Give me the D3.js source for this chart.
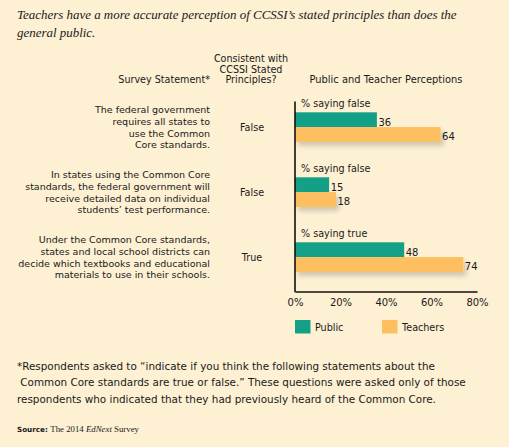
<!DOCTYPE html>
<html><head><meta charset="utf-8">
<script src="https://cdn.jsdelivr.net/npm/d3@7"></script>
<style>
html,body{margin:0;padding:0;background:#fdf0d3;}
svg{display:block;}
text{font-family:"DejaVu Sans","Noto Sans",sans-serif;fill:#1a1a1a;}
</style></head>
<body>
<svg id="c" width="509" height="447"></svg>
<script>
const statements = [
  ["The federal government","requires all states to","use the Common","Core standards."],
  ["In states using the Common Core","standards, the federal government will","receive detailed data on individual","students\u2019 test performance."],
  ["Under the Common Core standards,","states and local school districts can","decide which textbooks and educational","materials to use in their schools."]
];
const consistent = ["False","False","True"];
const measureLabels = ["% saying false","% saying false","% saying true"];
const publicVals = [36, 15, 48];
const teacherVals = [64, 18, 74];
const seriesNames = ["Public","Teachers"];
const ticks = [0,20,40,60,80];
const colors = ["#14a086","#fdbf5f"];

const svg = d3.select("#c");
const defs = svg.append("defs");
const f = defs.append("filter").attr("id","sh").attr("x","-10%").attr("y","-50%").attr("width","130%").attr("height","250%");
f.append("feGaussianBlur").attr("in","SourceAlpha").attr("stdDeviation",2.5);
f.append("feOffset").attr("dx",3).attr("dy",4).attr("result","b");
f.append("feComponentTransfer").append("feFuncA").attr("type","linear").attr("slope",0.18);
const m = f.append("feMerge"); m.append("feMergeNode"); m.append("feMergeNode").attr("in","SourceGraphic");

// Title
const title = svg.append("text").attr("x",17).attr("y",19)
  .style("font-family","'Liberation Serif','DejaVu Serif',serif").style("font-style","italic").style("font-size","15px");
const t1 = title.append("tspan").attr("x",17).attr("y",19).text("Teachers have a more accurate perception of CCSSI\u2019s stated principles than does the");
title.append("tspan").attr("x",17).attr("y",37).text("general public.");
const w = t1.node().getComputedTextLength();
title.style("font-size", (15*440/w).toFixed(2)+"px");

// headers
const hs = "9.6px";
svg.append("text").attr("x",210).attr("y",83).attr("text-anchor","end").style("font-size",hs).text("Survey Statement*");
["Consistent with","CCSSI Stated","Principles?"].forEach((t,i)=>
  svg.append("text").attr("x",251).attr("y",62+i*10.5).attr("text-anchor","middle").style("font-size",hs).text(t));
svg.append("text").attr("x",386).attr("y",83).attr("text-anchor","middle").style("font-size","9.9px").text("Public and Teacher Perceptions");

const x = d3.scaleLinear().domain([0,80]).range([295,477]);
const barH = 14.8;

const g = svg.append("g");
d3.range(3).forEach(i=>{
  const top = 112.3 + i*65;
  const center = top + barH;
  const lines = statements[i];
  const lh = 11.9;
  lines.forEach((t,j)=>{
    g.append("text").attr("x",210).attr("y",center + (j-(lines.length-1)/2)*lh + 3.5)
      .attr("text-anchor","end").style("font-size","9.5px").text(t);
  });
  g.append("text").attr("x",252).attr("y",center+3.5).attr("text-anchor","middle").style("font-size",hs).text(consistent[i]);
  g.append("text").attr("x",301).attr("y",top-5).style("font-size",hs).text(measureLabels[i]);
  const vals = [publicVals[i], teacherVals[i]];
  vals.forEach((v,k)=>{
    g.append("rect").attr("x",x(0)).attr("y",top+k*barH).attr("width",x(v)-x(0)).attr("height",barH)
      .attr("fill",colors[k]).attr("filter", k===1 ? "url(#sh)" : null);
    g.append("text").attr("x",x(v)+1.5).attr("y",top+k*barH+barH-1.5).style("font-size","10px").text(v);
  });
});

// axes
const ax = svg.append("g").attr("transform","translate(0,291.5)")
  .call(d3.axisBottom(x).tickValues(ticks).tickSize(0).tickPadding(7).tickFormat(d=>d+"%"));
ax.select(".domain").attr("stroke","#111").attr("stroke-width",1.6);
ax.selectAll("text").style("font-size","10px").attr("fill","#1a1a1a").style("font-family","'DejaVu Sans',sans-serif");
svg.append("line").attr("x1",x(0)).attr("x2",x(0)).attr("y1",101.5).attr("y2",292.3).attr("stroke","#111").attr("stroke-width",1.6);

// legend
const legX = [295, 382];
seriesNames.forEach((s,k)=>{
  svg.append("rect").attr("x",legX[k]).attr("y",320).attr("width",15.5).attr("height",13.5).attr("fill",colors[k]);
  svg.append("text").attr("x",legX[k]+20).attr("y",331).style("font-size",hs).text(s);
});

// footnote
const fn = ["*Respondents asked to \u201cindicate if you think the following statements about the",
  " Common Core standards are true or false.\u201d These questions were asked only of those",
  "respondents who indicated that they had previously heard of the Common Core."];
fn.forEach((t,i)=>svg.append("text").attr("x",17).attr("y",369.5+i*16.8).style("font-size","10.4px").attr("xml:space","preserve").style("white-space","pre").text(t));

const src = svg.append("text").attr("x",17).attr("y",432).style("font-size","7.2px");
src.append("tspan").style("font-weight","bold").text("Source: ");
src.append("tspan").style("font-family","'Liberation Serif',serif").style("font-size","8.8px").text("The 2014 ");
src.append("tspan").style("font-family","'Liberation Serif',serif").style("font-size","8.8px").style("font-style","italic").text("EdNext");
src.append("tspan").style("font-family","'Liberation Serif',serif").style("font-size","8.8px").text(" Survey");
</script>
</body></html>
